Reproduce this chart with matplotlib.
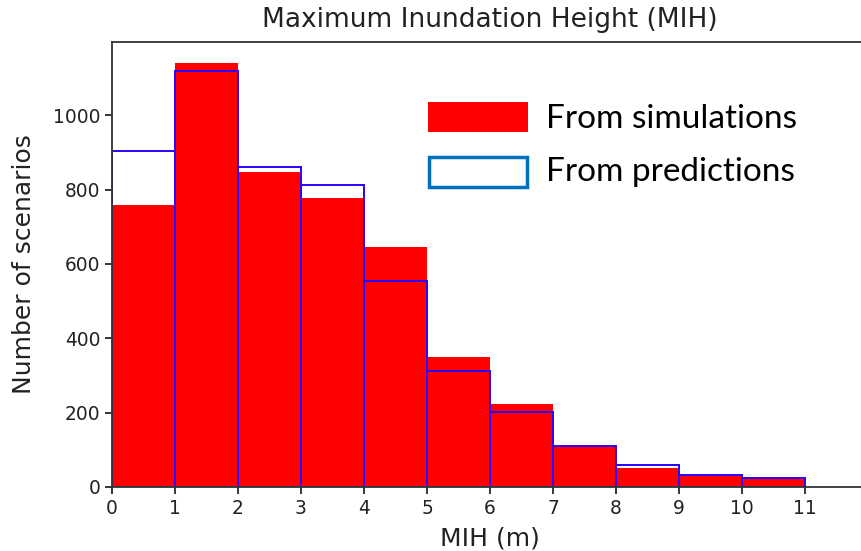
import matplotlib
matplotlib.use("Agg")
import matplotlib.pyplot as plt
from matplotlib.patches import Rectangle

# bin edges (m) and counts per bin
bin_left = [0, 1, 2, 3, 4, 5, 6, 7, 8, 9, 10]
sim_counts = [758, 1140, 848, 778, 645, 350, 222, 107, 52, 30, 22]
pred_counts = [905, 1120, 860, 812, 553, 311, 201, 109, 59, 32, 24]
xticks = list(range(12))
yticks = [0, 200, 400, 600, 800, 1000]

W, H = 862, 551
fig = plt.figure(figsize=(W / 100, H / 100), dpi=100)
ax = fig.add_axes([112 / W, (H - 487) / H, 756 / W, (487 - 42) / H])

ax.bar(bin_left, sim_counts, width=1, align="edge", color="#ff0000", linewidth=0)
ax.bar(bin_left, pred_counts, width=1, align="edge", fill=False,
       edgecolor="#2a00ff", linewidth=1.4)

ax.set_xlim(0, 12)
ax.set_ylim(0, 1197)
ax.set_xticks(xticks)
ax.set_yticks(yticks)
ax.tick_params(labelsize=13.4, length=5, width=1.1, labelcolor="#222222")
for s in ax.spines.values():
    s.set_linewidth(1.3)
    s.set_color("#333333")

ax.set_title("Maximum Inundation Height (MIH)", fontsize=19, pad=11, color="#222222")
ax.set_xlabel("MIH (m)", fontsize=18, labelpad=6, color="#222222")
ax.set_ylabel("Number of scenarios", fontsize=18, labelpad=12, color="#222222")

# hand-made legend
def px_rect(x0, y0, x1, y1, **kw):
    r = Rectangle((x0 / W, 1 - y1 / H), (x1 - x0) / W, (y1 - y0) / H,
                  transform=fig.transFigure, **kw)
    fig.patches.append(r)

px_rect(428, 102, 528, 132, facecolor="#ff0000", edgecolor="none")
px_rect(429, 157, 527, 187, facecolor="white", edgecolor="#0070c0", linewidth=2.5)
fig.text(546 / W, 1 - 119 / H, "From simulations", fontsize=24,
         family="Lato", va="center", ha="left")
fig.text(546 / W, 1 - 172 / H, "From predictions", fontsize=24,
         family="Lato", va="center", ha="left")

fig.savefig("out.png", dpi=100)
